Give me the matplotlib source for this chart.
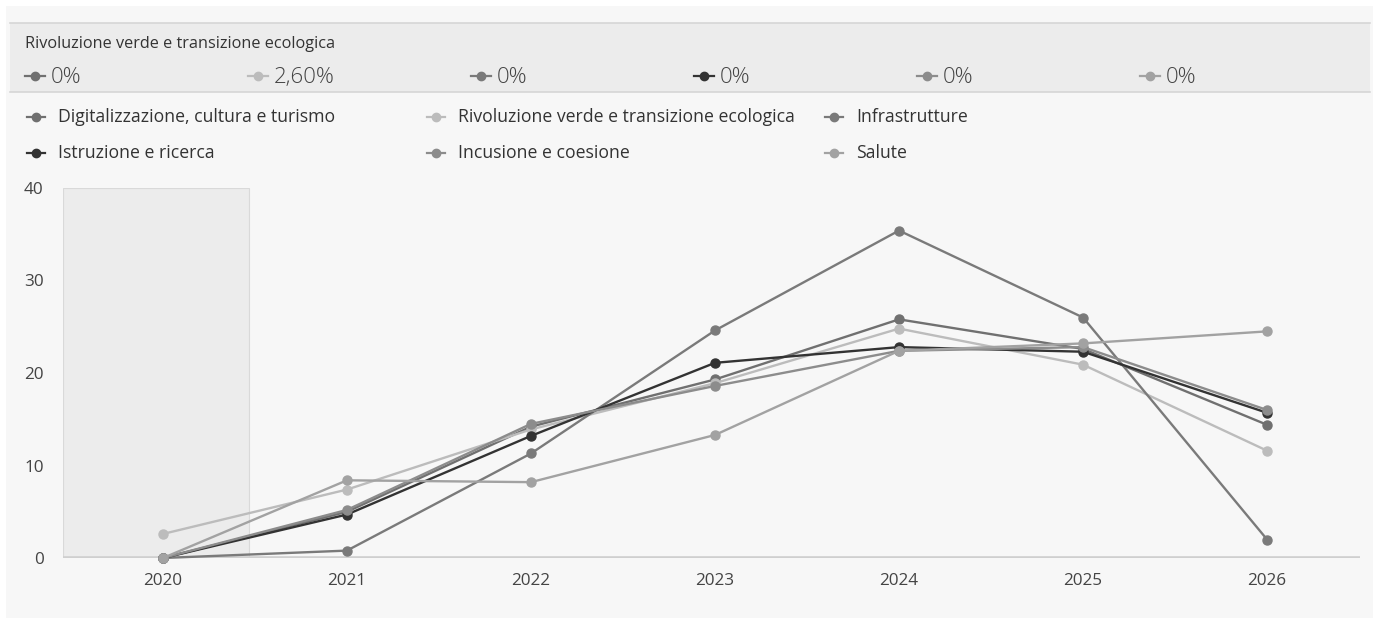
import matplotlib
matplotlib.use("Agg")
import matplotlib.pyplot as plt
from matplotlib.lines import Line2D
from matplotlib.patches import Rectangle

plt.rcParams['font.family'] = ['Open Sans', 'DejaVu Sans']

anni = [2020, 2021, 2022, 2023, 2024, 2025, 2026]
serie = ["Digitalizzazione, cultura e turismo",
         "Rivoluzione verde e transizione ecologica",
         "Infrastrutture",
         "Istruzione e ricerca",
         "Incusione e coesione",
         "Salute"]
digitalizzazione = [0, 5.0, 14.2, 19.3, 25.8, 22.6, 14.4]
rivoluzione = [2.6, 7.4, 13.9, 18.9, 24.8, 20.9, 11.6]
infrastrutture = [0, 0.8, 11.3, 24.6, 35.4, 26.0, 2.0]
istruzione = [0, 4.7, 13.2, 21.1, 22.8, 22.3, 15.7]
inclusione = [0, 5.2, 14.5, 18.6, 22.4, 22.8, 16.0]
salute = [0, 8.4, 8.2, 13.3, 22.4, 23.2, 24.5]
valori = [digitalizzazione, rivoluzione, infrastrutture, istruzione, inclusione, salute]
colori = ['#707070', '#bcbcbc', '#7a7a7a', '#333333', '#8c8c8c', '#a2a2a2']

# valori della categoria evidenziata (2020)
titolo_sel = "Rivoluzione verde e transizione ecologica"
etichette_sel = ["0%", "2,60%", "0%", "0%", "0%", "0%"]

W, H = 1379, 624
fig = plt.figure(figsize=(W / 100, H / 100), dpi=100, facecolor='white')

def fx(px):
    return px / W

def fy(py):
    return 1 - py / H

# pannello di sfondo
fig.add_artist(Rectangle((fx(6), fy(618)), fx(1367), 612 / H, transform=fig.transFigure,
                         facecolor='#f7f7f7', edgecolor='none', zorder=0))
# fascia in alto con i valori della categoria
fig.add_artist(Rectangle((fx(10), fy(92)), fx(1360), 69 / H, transform=fig.transFigure,
                         facecolor='#ececec', edgecolor='none', zorder=1))
for yy in (23, 92):
    fig.add_artist(Line2D([fx(10), fx(1370)], [fy(yy), fy(yy)], transform=fig.transFigure,
                          color='#d6d6d6', lw=1.2, zorder=2))

def marcatore(x0, y0, col, lung=18, ms=6):
    fig.add_artist(Line2D([fx(x0), fx(x0 + lung)], [fy(y0), fy(y0)], transform=fig.transFigure,
                          color=col, lw=1.6, zorder=3))
    fig.add_artist(Line2D([fx(x0 + lung / 2)], [fy(y0)], transform=fig.transFigure, color=col,
                          marker='o', markersize=ms, lw=0, zorder=4))

fig.text(fx(25), fy(44), titolo_sel, fontsize=11.7, color='#333333', va='center', zorder=5)
for i, lab in enumerate(etichette_sel):
    x0 = 25 + i * 223
    marcatore(x0, 76, colori[i], lung=20)
    fig.text(fx(x0 + 26), fy(77.5), lab, fontsize=16, fontweight='light', color='#444444',
             va='center', zorder=5)

# legenda
col_x = [27, 427, 825]
righe_y = [117, 153]
for i, nome in enumerate(serie):
    x0 = col_x[i % 3]
    y0 = righe_y[i // 3]
    marcatore(x0, y0, colori[i])
    fig.text(fx(x0 + 31), fy(y0), nome, fontsize=12.7, color='#333333', va='center', zorder=5)

ax = fig.add_axes([fx(63), fy(558), fx(1360 - 63), (558 - 188) / H])
ax.set_facecolor('none')
ax.set_xlim(2019.457, 2026.505)
ax.set_ylim(0, 40)

# categoria evidenziata
ax.axvspan(2019.457, 2020.467, ymin=0, ymax=1, facecolor='#ececec', edgecolor='#d9d9d9', lw=0.8, zorder=0)

for vals, col in zip(valori, colori):
    ax.plot(anni, vals, color=col, lw=1.7, marker='o', markersize=6.5, zorder=3, clip_on=False)

ax.axhline(0, color='#cfcfcf', lw=2.6, zorder=2)
for s in ax.spines.values():
    s.set_visible(False)
ax.set_xticks(anni)
ax.set_yticks([0, 10, 20, 30, 40])
ax.tick_params(length=0, labelsize=12.3, colors='#444444')
ax.tick_params(axis='x', pad=11)
ax.tick_params(axis='y', pad=14)

fig.savefig("out.png", dpi=100, facecolor='white')
